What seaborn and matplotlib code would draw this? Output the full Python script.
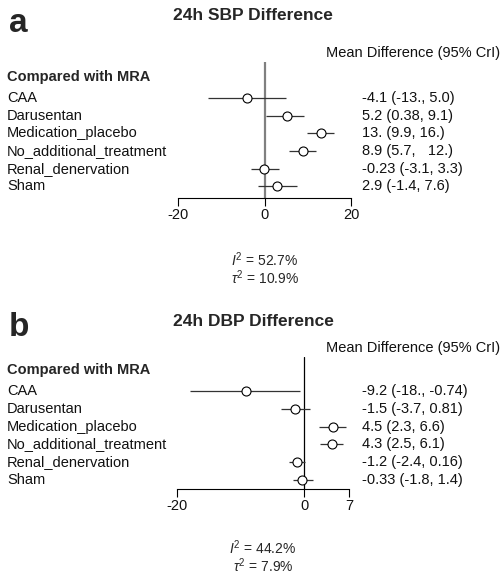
import numpy as np
import pandas as pd
import matplotlib
matplotlib.use("Agg")
import matplotlib.pyplot as plt
import matplotlib.transforms as mtransforms
import seaborn as sns

# ---- data ----
treatments = ["CAA", "Darusentan", "Medication_placebo", "No_additional_treatment",
              "Renal_denervation", "Sham"]

sbp_mean = [-4.1, 5.2, 13.0, 8.9, -0.23, 2.9]
sbp_low = [-13.0, 0.38, 9.9, 5.7, -3.1, -1.4]
sbp_high = [5.0, 9.1, 16.0, 12.0, 3.3, 7.6]
sbp_labels = ["-4.1 (-13., 5.0)", "5.2 (0.38, 9.1)", "13. (9.9, 16.)",
              "8.9 (5.7,   12.)", "-0.23 (-3.1, 3.3)", "2.9 (-1.4, 7.6)"]
sbp_ticks = [-20, 0, 20]
sbp_stats = [r"$I^{2}$ = 52.7%", r"$\tau^{2}$ = 10.9%"]

dbp_mean = [-9.2, -1.5, 4.5, 4.3, -1.2, -0.33]
dbp_low = [-18.0, -3.7, 2.3, 2.5, -2.4, -1.8]
dbp_high = [-0.74, 0.81, 6.6, 6.1, 0.16, 1.4]
dbp_labels = ["-9.2 (-18., -0.74)", "-1.5 (-3.7, 0.81)", "4.5 (2.3, 6.6)",
              "4.3 (2.5, 6.1)", "-1.2 (-2.4, 0.16)", "-0.33 (-1.8, 1.4)"]
dbp_ticks = [-20, 0, 7]
dbp_stats = [r"$I^{2}$ = 44.2%", r"$\tau^{2}$ = 7.9%"]

sns.set_theme(style="white")
plt.rcParams["font.family"] = ["Liberation Sans", "DejaVu Sans"]
plt.rcParams["mathtext.fontset"] = "custom"
plt.rcParams["mathtext.rm"] = "Liberation Sans"
plt.rcParams["mathtext.it"] = "Liberation Sans:italic"

W, H = 501, 578
FS = 10.5
fig = plt.figure(figsize=(W / 100, H / 100), dpi=100)


def fx(px):
    return px / W


def fy(py):
    return 1 - py / H


def panel(letter, title, mean, low, high, labels, ticks, stats,
          title_y, head_y, cmp_y, stats_y, stats_x,
          x0, x1, zero_top, axis_y, row0, step, zero_color, zero_lw):
    df = pd.DataFrame({"treatment": treatments, "mean": mean,
                       "low": low, "high": high, "row": np.arange(len(treatments))})
    ax = fig.add_axes([fx(x0), fy(axis_y), fx(x1 - x0), (axis_y - zero_top) / H])
    ax.set_xlim(ticks[0], ticks[-1])
    ax.set_ylim((axis_y - row0) / step, (zero_top - row0) / step)
    ax.axvline(0, color=zero_color, lw=zero_lw, zorder=1)
    ax.hlines(df["row"], df["low"], df["high"], color="#333333", lw=0.9, zorder=2)
    sns.scatterplot(data=df, x="mean", y="row", ax=ax, s=42, color="white",
                    edgecolor="black", linewidth=0.8, zorder=3, legend=False)
    for s in ["top", "left", "right"]:
        ax.spines[s].set_visible(False)
    ax.spines["bottom"].set_color("black")
    ax.spines["bottom"].set_linewidth(0.8)
    ax.spines["bottom"].set_bounds(ticks[0], ticks[-1])
    ax.set_xticks(ticks)
    ax.set_xticklabels([str(t) for t in ticks], fontsize=FS, color="#111111")
    ax.tick_params(axis="x", direction="out", length=6, width=0.8, color="black",
                   pad=1.5, bottom=True)
    ax.set_yticks([])
    ax.set_xlabel("")
    ax.set_ylabel("")

    tr = mtransforms.blended_transform_factory(fig.transFigure, ax.transData)
    for i, t in enumerate(df["treatment"]):
        ax.text(fx(7), i, t, transform=tr, ha="left", va="center",
                fontsize=FS, color="#111111")
        ax.text(fx(362), i, labels[i], transform=tr, ha="left", va="center",
                fontsize=FS, color="#111111")

    fig.text(fx(9), fy(title_y + 7), letter, fontsize=24, fontweight="bold",
             ha="left", va="center")
    fig.text(fx(253), fy(title_y), title, fontsize=12.5, fontweight="bold",
             ha="center", va="center")
    fig.text(fx(500), fy(head_y), "Mean Difference (95% CrI)", fontsize=FS,
             ha="right", va="center", color="#111111")
    fig.text(fx(7), fy(cmp_y), "Compared with MRA", fontsize=FS,
             fontweight="bold", ha="left", va="center")
    for y, txt in zip(stats_y, stats):
        fig.text(fx(stats_x), fy(y), txt, fontsize=10, ha="center", va="center")
    return ax


panel("a", "24h SBP Difference", sbp_mean, sbp_low, sbp_high, sbp_labels,
      sbp_ticks, sbp_stats, title_y=16, head_y=53, cmp_y=77,
      stats_y=[260, 278], stats_x=265,
      x0=178, x1=351, zero_top=62, axis_y=198,
      row0=98, step=17.7, zero_color="#808080", zero_lw=1.6)
panel("b", "24h DBP Difference", dbp_mean, dbp_low, dbp_high, dbp_labels,
      dbp_ticks, dbp_stats, title_y=321, head_y=348, cmp_y=370,
      stats_y=[548, 566], stats_x=263,
      x0=177, x1=349, zero_top=357, axis_y=489,
      row0=391, step=17.75, zero_color="black", zero_lw=0.9)

fig.savefig("out.png", dpi=100, facecolor="white")
